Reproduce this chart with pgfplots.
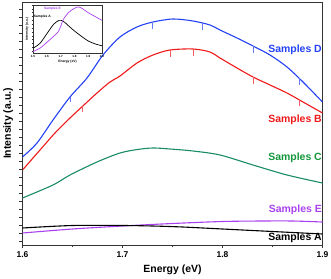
\documentclass[border=0pt]{standalone}
\usepackage{fontspec}
\setmainfont{Liberation Sans}
\usepackage{pgfplots}
\pgfplotsset{compat=1.18}
\definecolor{cD}{RGB}{35,65,245}
\definecolor{cB}{RGB}{240,25,25}
\definecolor{cC}{RGB}{25,140,100}
\definecolor{cCt}{RGB}{20,150,60}
\definecolor{cE}{RGB}{170,65,240}
\begin{document}
\begin{tikzpicture}
\begin{axis}[
  at={(0,0)}, anchor=south west,
  scale only axis, width=300bp, height=243bp,
  xmin=1.6, xmax=1.9, ymin=0, ymax=243,
  xtick={1.6,1.7,1.8,1.9}, xticklabels={1.6,1.7,1.8,1.9},
  minor xtick={1.65,1.75,1.85},
  ytick={4,12,...,240}, yticklabels={},
  xtick pos=left, ytick pos=left,
  tick align=outside, major tick length=3bp, minor tick length=2bp,
  axis line style={line width=0.8bp, black!80},
  tick style={black!80, line width=0.6bp},
  /pgf/number format/assume math mode=true,
  tick label style={font=\fontsize{8.5}{10}\selectfont\bfseries},
  label style={font=\fontsize{10.5}{12}\selectfont\bfseries},
  xlabel={Energy (eV)}, ylabel={Intensity (a.u.)},
  xlabel style={at={(axis description cs:0.5,-0.103)}, anchor=center},
  ylabel style={at={(axis description cs:-0.048,0.5)}, anchor=center},
  clip=true,
]
% Samples D
\addplot[cD, line width=1.1bp, smooth] coordinates {
(1.600,88) (1.6145,102) (1.6305,125) (1.6475,148) (1.6645,167) (1.6805,190)
(1.6975,208) (1.7145,218) (1.7305,223) (1.7505,226)
(1.7705,224) (1.7875,220) (1.7975,215)
(1.8145,207) (1.8305,199) (1.8475,190) (1.8645,178)
(1.8805,163) (1.900,143)};
\addplot[cD!70, line width=0.5bp] coordinates {(1.7300,223) (1.7300,216)};
\addplot[cD!70, line width=0.5bp] coordinates {(1.7800,222) (1.7800,215)};
\addplot[cD!70, line width=0.5bp] coordinates {(1.8306,199) (1.8306,192)};
\addplot[cD!70, line width=0.5bp] coordinates {(1.8770,167) (1.8770,160)};
\addplot[cD!70, line width=0.5bp] coordinates {(1.6475,148) (1.6475,143)};
% Samples B
\addplot[cB, line width=1.1bp, smooth] coordinates {
(1.600,75) (1.6175,95) (1.6325,112) (1.6475,127) (1.6625,141) (1.6745,152)
(1.6875,163) (1.6975,169) (1.7145,182) (1.7305,190) (1.7475,195)
(1.7705,196) (1.7875,193) (1.7975,187)
(1.8145,177) (1.8305,168) (1.8475,160) (1.8645,152)
(1.8805,143) (1.900,132)};
\addplot[cB!70, line width=0.5bp] coordinates {(1.7476,195) (1.7476,188)};
\addplot[cB!70, line width=0.5bp] coordinates {(1.7706,196) (1.7706,189)};
\addplot[cB!70, line width=0.5bp] coordinates {(1.8306,168) (1.8306,161)};
\addplot[cB!70, line width=0.5bp] coordinates {(1.8770,146) (1.8770,139)};
\addplot[cB!70, line width=0.5bp] coordinates {(1.6600,139) (1.6600,133)};
% Samples C
\addplot[cC, line width=1.1bp, smooth] coordinates {
(1.600,47) (1.6305,60) (1.6475,70) (1.6745,83) (1.6975,92) (1.7150,95.5)
(1.7305,97) (1.7475,96) (1.7705,94) (1.7975,90) (1.8305,80) (1.8645,70) (1.900,62)};
% Samples E
\addplot[cE, line width=1.1bp, smooth] coordinates {
(1.600,12) (1.650,16) (1.700,19) (1.750,21.5) (1.800,23.5) (1.840,24) (1.870,24) (1.900,23)};
% Samples A
\addplot[black, line width=1.1bp, smooth] coordinates {
(1.600,17) (1.650,19.5) (1.700,19.5) (1.730,19) (1.760,18) (1.800,16) (1.850,13.5) (1.900,11)};
\begin{scope}[every node/.style={anchor=east, inner sep=0pt, font=\fontsize{10.5}{12}\selectfont\bfseries}]
\node[text=cD] at (axis cs:1.8995,195) {Samples D};
\node[text=cB] at (axis cs:1.8995,125) {Samples B};
\node[text=cCt] at (axis cs:1.8995,87) {Samples C};
\node[text=cE] at (axis cs:1.8995,35) {Samples E};
\node[text=black] at (axis cs:1.8995,7) {Samples A};
\end{scope}
\end{axis}
\begin{axis}[
  at={(10.5bp,192bp)}, anchor=south west,
  scale only axis, width=69bp, height=48bp,
  xmin=1.5, xmax=2.0, ymin=0, ymax=1,
  xtick={1.5,1.6,1.7,1.8,1.9,2.0}, xticklabels={1.5,1.6,1.7,1.8,1.9,2.0},
  ytick={0.04,0.12,...,1.0}, yticklabels={},
  xtick pos=left, ytick pos=left,
  tick align=outside, major tick length=1.2bp,
  axis line style={line width=0.5bp, black!80},
  tick style={black!80, line width=0.4bp},
  /pgf/number format/assume math mode=true,
  tick label style={font=\fontsize{3}{3.5}\selectfont\bfseries, inner sep=0.6bp},
  label style={font=\fontsize{3.3}{4}\selectfont\bfseries},
  xlabel={Energy (eV)}, ylabel={Intensity (a.u.)},
  xlabel style={at={(axis description cs:0.5,-0.18)}, anchor=center},
  ylabel style={at={(axis description cs:-0.085,0.5)}, anchor=center},
]
\addplot[black, line width=0.7bp, smooth] coordinates {
(1.50,0.10) (1.55,0.20) (1.60,0.40) (1.65,0.60) (1.69,0.68) (1.72,0.66) (1.76,0.56)
(1.80,0.46) (1.85,0.35) (1.90,0.25) (1.95,0.19) (2.00,0.15)};
\addplot[cE, line width=0.7bp, smooth] coordinates {
(1.50,0.03) (1.55,0.10) (1.60,0.22) (1.65,0.35) (1.68,0.43) (1.70,0.55) (1.72,0.70)
(1.76,0.85) (1.80,0.93) (1.83,0.96) (1.86,0.92) (1.90,0.84) (1.95,0.76) (2.00,0.68)};
\node[anchor=west, inner sep=0pt, font=\fontsize{3.3}{4}\selectfont\bfseries] at (axis cs:1.505,0.75) {Samples A};
\node[anchor=west, inner sep=0pt, text=cE, font=\fontsize{3.3}{4}\selectfont\bfseries] at (axis cs:1.58,0.92) {Samples E};
\end{axis}
\pgfresetboundingbox
\path (-22.5bp,-34bp) rectangle (308.5bp,245bp);
\end{tikzpicture}
\end{document}
